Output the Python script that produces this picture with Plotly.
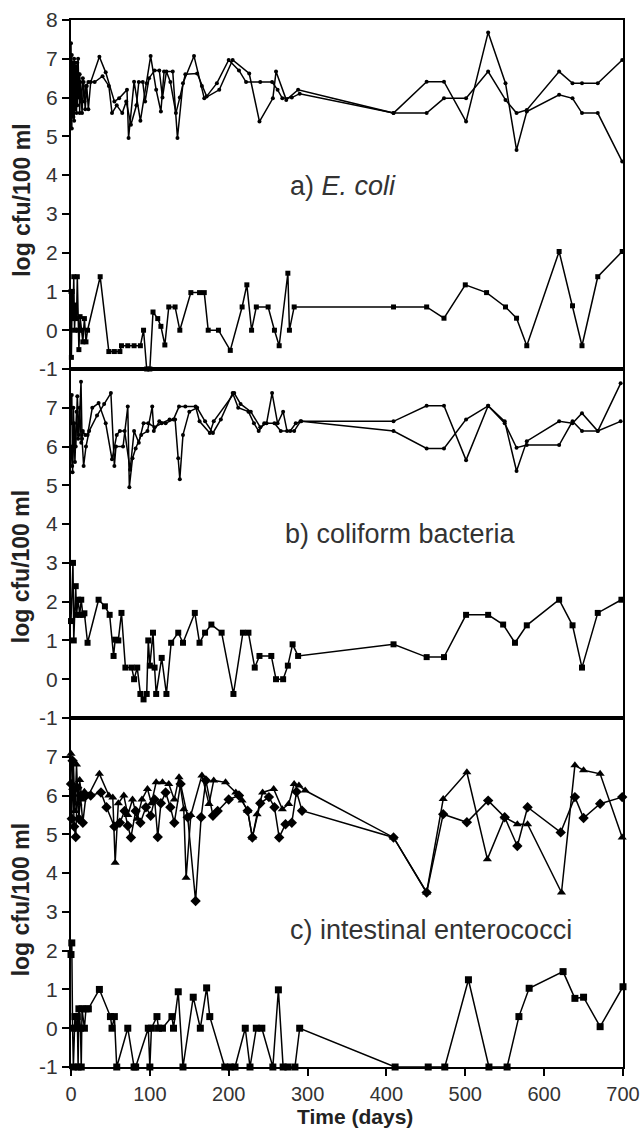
import plotly.graph_objects as go
from plotly.subplots import make_subplots

# ---------------- Panel a) E. coli ----------------
a1_days = [0, 1, 2, 3, 4, 5, 6, 7, 8, 9, 10, 11, 12, 14, 16, 18, 20, 22, 25, 36, 44, 55, 61, 71, 73, 80, 88, 96, 101, 108, 114, 118, 129, 135, 142, 156, 169, 188, 205, 226, 239, 256, 260, 273, 288,
           409, 451, 473, 501, 529, 551, 565, 578, 619, 636, 648, 668, 699]
a1_vals = [7.4, 5.2, 6.9, 5.5, 7.0, 5.7, 6.8, 5.6, 6.9, 6.0, 6.6, 5.6, 6.4, 5.6, 6.4, 5.7, 6.3, 5.7, 6.4, 7.05, 6.65, 5.9, 5.98, 6.2, 4.96, 6.41, 5.4, 6.37, 7.07, 6.2, 5.64, 6.67, 6.67, 4.96, 6.37, 7.07, 5.98, 6.2, 6.97, 6.62, 5.38, 5.98, 6.67, 5.94, 6.2,
           5.6, 6.41, 6.41, 5.38, 7.68, 6.37, 4.65, 5.64, 6.07, 5.98, 5.6, 5.6, 4.35]

a2_days = [0, 1, 2, 3, 4, 5, 6, 7, 8, 9, 10, 11, 13, 15, 17, 19, 22, 30, 40, 48, 52, 58, 65, 70, 76, 83, 86, 91, 94, 99, 106, 112, 116, 121, 126, 133, 138, 145, 160, 166, 172, 185, 200, 213, 222, 240, 255, 262, 268, 280, 290,
           409, 451, 473, 501, 529, 551, 565, 578, 619, 636, 648, 668, 699]
a2_vals = [5.6, 7.1, 5.8, 6.6, 5.4, 6.9, 6.0, 6.5, 5.8, 7.0, 6.2, 6.6, 5.9, 6.5, 5.9, 6.3, 6.4, 6.4, 6.55, 6.3, 5.6, 5.8, 5.6, 5.9, 5.3, 5.8, 6.4, 6.4, 5.9, 6.5, 6.7, 6.7, 6.0, 6.67, 6.4, 5.6, 6.0, 6.6, 6.62, 6.3, 6.03, 6.37, 6.97, 6.7, 6.4, 6.4, 6.4, 6.2, 5.98, 6.0, 6.1,
           5.6, 5.6, 5.98, 5.98, 6.67, 5.94, 5.6, 5.68, 6.67, 6.37, 6.37, 6.37, 6.97]

alow_days = [0, 0.5, 1.5, 2.5, 3.5, 4.5, 5.5, 7, 8, 9, 10, 11.5, 13, 15, 17, 19, 21, 37, 48, 55, 62, 64, 72, 80, 88, 92, 96, 100, 104, 110, 114, 119, 124, 132, 138, 152, 163, 169, 174, 187, 202, 217, 223, 229, 235, 250, 258, 264, 275, 277, 283,
             409, 451, 473, 500, 527, 551, 565, 578, 619, 636, 648, 668, 699]
alow_vals = [1.0, -0.7, 1.0, 0.3, 1.38, 0.0, 0.65, 0.3, 1.38, 0.0, -0.5, 0.35, 0.0, -0.3, 0.3, -0.3, 0.0, 1.38, -0.55, -0.55, -0.55, -0.4, -0.4, -0.4, -0.4, 0.0, -1.0, -1.0, 0.47, 0.3, 0.1, -0.38, 0.6, 0.6, 0.0, 0.97, 0.97, 0.97, 0.0, 0.0, -0.52, 0.6, 1.17, 0.0, 0.6, 0.6, 0.0, -0.4, 1.47, 0.0, 0.6,
             0.6, 0.6, 0.31, 1.17, 0.97, 0.6, 0.31, -0.4, 2.03, 0.63, -0.4, 1.38, 2.03]

# ---------------- Panel b) coliform bacteria ----------------
b1_days = [0, 1, 2, 4, 6, 8, 10, 12.7, 14, 16, 19, 23, 33, 42, 50.6, 55, 57, 66, 72, 74, 78, 82, 89, 97, 103, 105, 112, 120, 130, 137, 145, 158, 163, 176, 181, 207, 215, 228, 240, 248, 255, 262, 269, 274, 283, 291,
           409, 451, 473, 501, 529, 550, 565, 578, 619, 636, 648, 668, 697]
b1_vals = [6.6, 7.33, 5.34, 6.6, 6.0, 7.3, 6.3, 7.67, 6.2, 5.5, 6.0, 6.4, 6.8, 7.1, 7.38, 5.5, 6.0, 6.0, 7.03, 4.95, 5.7, 5.95, 6.3, 6.4, 7.03, 6.4, 6.65, 6.6, 6.7, 7.03, 7.03, 7.03, 6.65, 6.35, 6.65, 7.38, 7.1, 6.9, 6.5, 6.6, 7.38, 6.6, 6.9, 6.4, 6.4, 6.65,
           6.65, 7.05, 7.05, 5.65, 7.05, 6.65, 5.37, 6.14, 6.65, 6.6, 6.86, 6.4, 7.63]

b2_days = [0, 1.5, 3, 5, 7, 9, 11, 13, 15, 18, 21, 27, 35, 44, 52, 58, 62, 68, 75, 80, 86, 92, 98, 106, 115, 125, 132, 136, 138, 142, 150, 160, 170, 180, 190, 205, 212, 225, 232, 238, 245, 258, 266, 278, 285, 292,
           409, 451, 473, 501, 529, 550, 565, 578, 619, 636, 648, 668, 697]
b2_vals = [6.0, 5.5, 7.0, 5.6, 6.9, 6.2, 7.0, 6.1, 6.4, 6.3, 6.3, 7.0, 7.12, 6.6, 5.67, 6.3, 6.4, 6.4, 5.4, 6.4, 6.1, 6.6, 6.6, 6.5, 6.6, 6.7, 6.7, 5.7, 5.16, 6.3, 6.9, 7.0, 6.65, 6.35, 6.7, 7.38, 7.0, 6.9, 6.6, 6.4, 6.6, 6.6, 6.4, 6.4, 6.6, 6.65,
           6.4, 5.95, 5.95, 6.7, 7.05, 6.6, 5.97, 6.04, 6.04, 6.65, 6.4, 6.4, 6.65]

blow_days = [0, 2.5, 3.5, 6, 7, 9, 11, 13, 15, 17, 21, 35, 43, 49, 54, 56, 60, 64, 69, 77, 80, 84, 88, 92, 96, 98, 100, 104, 106, 108, 115, 121, 127, 136, 142, 157, 163, 170, 178, 191, 206, 218, 225, 233, 239, 254, 260, 269, 275, 281, 288,
             409, 451, 473, 501, 529, 548, 563, 578, 619, 636, 648, 668, 698]
blow_vals = [1.5, 3.0, 1.0, 2.4, 1.66, 2.05, 1.66, 2.05, 1.66, 1.7, 0.94, 2.05, 1.88, 1.66, 0.6, 1.02, 1.0, 1.71, 0.3, 0.3, 0.0, 0.3, -0.38, -0.52, -0.38, 1.0, 0.35, 1.2, 0.3, -0.38, 0.55, -0.38, 0.94, 1.2, 0.94, 1.71, 0.94, 1.2, 1.41, 1.2, -0.38, 1.2, 1.2, 0.3, 0.6, 0.6, 0.0, 0.0, 0.35, 0.9, 0.6,
             0.9, 0.57, 0.57, 1.66, 1.66, 1.41, 0.94, 1.39, 2.05, 1.39, 0.3, 1.71, 2.05]

# ---------------- Panel c) intestinal enterococci ----------------
ctri_days = [0, 2, 3, 5, 7, 9, 11, 14, 17, 22, 36, 48, 53, 56, 60, 67, 72, 78, 84, 90, 97, 102, 108, 116, 124, 131, 137, 143, 146, 152, 166, 175, 181, 196, 209, 217, 224, 230, 236, 243, 257, 268, 276, 283, 289, 297,
             409, 451, 472, 502, 528, 550, 566, 579, 622, 639, 650, 671, 699]
ctri_vals = [7.08, 6.2, 6.9, 5.6, 6.8, 5.8, 6.4, 5.9, 6.1, 6.0, 6.56, 6.0, 5.95, 4.27, 5.8, 6.0, 5.5, 5.9, 5.4, 5.9, 6.17, 5.8, 6.34, 6.34, 6.3, 5.9, 6.47, 5.65, 3.88, 5.5, 6.52, 5.78, 6.39, 6.34, 6.08, 5.87, 5.61, 4.92, 5.52, 6.08, 6.17, 5.65, 5.78, 6.3, 6.26, 6.13,
             4.92, 3.5, 5.91, 6.6, 4.36, 5.44, 5.26, 5.26, 3.5, 6.78, 6.65, 6.56, 4.92]

cdia_days = [0, 1, 2, 4, 6, 8, 10, 12, 15, 19, 25, 38, 45, 55, 62, 68, 72, 76, 82, 88, 95, 101, 106, 110, 114, 120, 126, 131, 139, 148, 158, 165, 171, 180, 186, 200, 213, 224, 230, 240, 251, 258, 264, 272, 280, 286, 293,
             409, 451, 472, 502, 529, 550, 566, 579, 621, 639, 650, 671, 699]
cdia_vals = [6.3, 5.4, 6.9, 5.2, 4.93, 6.2, 5.4, 6.0, 5.3, 6.0, 6.0, 6.08, 5.7, 5.2, 5.3, 5.6, 5.22, 4.92, 5.6, 5.3, 5.7, 5.48, 5.9, 4.93, 5.8, 6.08, 5.7, 5.3, 6.3, 5.44, 3.28, 5.44, 6.39, 5.48, 5.6, 5.9, 6.0, 5.61, 4.92, 5.8, 5.96, 5.7, 4.92, 5.26, 5.3, 6.1, 5.61,
             4.92, 3.5, 5.52, 5.31, 5.87, 5.44, 4.7, 5.7, 5.05, 5.96, 5.42, 5.79, 5.96]

clow_days = [0, 1, 2, 3, 5, 7, 8, 9, 10, 12, 13, 14, 17, 19, 22, 36, 50, 52, 55, 58, 72, 80, 82, 98, 100, 102, 109, 111, 116, 128, 130, 136, 142, 155, 164, 172, 176, 195, 202, 208, 221, 227, 235, 242, 256, 263, 269, 275, 284, 290,
             411, 453, 474, 504, 530, 553, 568, 581, 624, 639, 650, 671, 700]
clow_vals = [1.9, 2.2, 0.0, -1.0, 0.3, 0.0, 0.3, -1.0, 0.5, 0.0, -1.0, 0.5, 0.0, 0.5, 0.5, 1.0, 0.3, 0.0, 0.3, -1.0, 0.0, -1.0, -1.0, 0.0, -1.0, 0.0, 0.3, 0.0, 0.0, 0.3, 0.0, 0.94, -1.0, 0.8, 0.0, 1.04, 0.3, -1.0, -1.0, -1.0, 0.0, -1.0, 0.0, 0.0, -1.0, 0.99, -1.0, -1.0, -1.0, 0.0,
             -1.0, -1.0, -1.0, 1.25, -1.0, -1.0, 0.3, 1.03, 1.46, 0.77, 0.8, 0.04, 1.07]

x_ticks = [0, 100, 200, 300, 400, 500, 600, 700]
y_ticks_top = [-1, 0, 1, 2, 3, 4, 5, 6, 7, 8]
y_ticks = [-1, 0, 1, 2, 3, 4, 5, 6, 7]

FONT = "Liberation Sans, Arial, Helvetica, sans-serif"

fig = make_subplots(rows=3, cols=1, shared_xaxes=True, vertical_spacing=0)


def add(row, x, y, symbol, size):
    fig.add_trace(go.Scatter(x=x, y=y, mode="lines+markers",
                             line=dict(color="black", width=1.5),
                             marker=dict(symbol=symbol, size=size, color="black"),
                             cliponaxis=False, showlegend=False), row=row, col=1)


add(1, a1_days, a1_vals, "circle", 4)
add(1, a2_days, a2_vals, "circle", 4)
add(1, alow_days, alow_vals, "square", 5)
add(2, b1_days, b1_vals, "circle", 4)
add(2, b2_days, b2_vals, "circle", 4)
add(2, blow_days, blow_vals, "square", 6)
add(3, ctri_days, ctri_vals, "triangle-up", 8)
add(3, cdia_days, cdia_vals, "diamond", 8)
add(3, clow_days, clow_vals, "square", 7)

yax = dict(range=[-1, 8], ticks="outside", ticklen=7, tickwidth=2, tickcolor="black",
           showline=True, linecolor="black", linewidth=2, mirror=True, automargin=False,
           showgrid=False, zeroline=False, ticklabeloverflow="allow",
           tickfont=dict(family=FONT, size=21, color="#333"))
fig.update_yaxes(**yax)
fig.update_yaxes(tickvals=y_ticks_top, ticktext=[str(v) for v in y_ticks_top], row=1, col=1)
fig.update_yaxes(tickvals=y_ticks, ticktext=[str(v) for v in y_ticks], row=2, col=1)
fig.update_yaxes(tickvals=y_ticks, ticktext=[str(v) for v in y_ticks], row=3, col=1)

fig.update_xaxes(range=[0, 700], showline=True, linecolor="black", linewidth=2, mirror=True,
                 showgrid=False, zeroline=False, automargin=False)
fig.update_xaxes(tickvals=x_ticks, ticktext=[str(v) for v in x_ticks], ticks="outside", ticklen=7,
                 tickwidth=2, tickcolor="black", ticklabelstandoff=1, ticklabeloverflow="allow",
                 tickfont=dict(family=FONT, size=20, color="#333"), row=3, col=1)

ann = []
ann.append(dict(text="a) <i>E. coli</i>", x=0.393, xref="paper", y=3.72, yref="y", xanchor="left", yanchor="middle",
                showarrow=False, font=dict(family=FONT, size=27, color="#333")))
ann.append(dict(text="b) coliform bacteria", x=0.384, xref="paper", y=3.75, yref="y2", xanchor="left", yanchor="middle",
                showarrow=False, font=dict(family=FONT, size=27, color="#333")))
ann.append(dict(text="c) intestinal enterococci", x=0.393, xref="paper", y=2.54, yref="y3", xanchor="left", yanchor="middle",
                showarrow=False, font=dict(family=FONT, size=27, color="#333")))
for yr, yv in (("y", 3.36), ("y2", 2.91), ("y3", 3.32)):
    ann.append(dict(text="<b>log cfu/100 ml</b>", x=-0.089, xref="paper", y=yv, yref=yr, xanchor="center",
                    yanchor="middle", textangle=-90, showarrow=False,
                    font=dict(family=FONT, size=23, color="#222")))
ann.append(dict(text="<b>Time (days)</b>", x=0.5145, xref="paper", y=-0.0605, yref="paper", xanchor="center",
                yanchor="bottom", showarrow=False, font=dict(family=FONT, size=21, color="#222")))

fig.update_layout(width=640, height=1131, margin=dict(l=71, r=17, t=20, b=64),
                  plot_bgcolor="white", paper_bgcolor="white", annotations=ann, showlegend=False)

fig.write_html("out.html")
